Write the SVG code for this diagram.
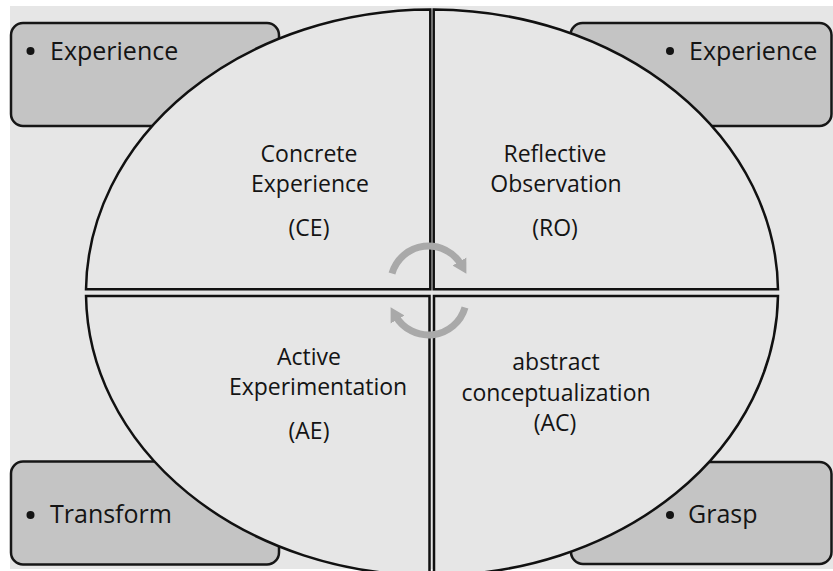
<svg xmlns="http://www.w3.org/2000/svg" width="833" height="571" viewBox="0 0 833 571">
  <defs>
    <style>
      .box { fill: #c4c4c4; stroke: #161616; stroke-width: 2.5; }
      .quad { fill: #e6e6e6; stroke: #111; stroke-width: 2.5; stroke-linejoin: miter; }
      .lbl { font-family: "Open Sans", "Liberation Sans", sans-serif; fill: #141414; }
      .corner { font-size: 25px; }
      .mid { font-size: 23px; text-anchor: middle; }
      .bullet { fill: #141414; }
      .cycle { fill: none; stroke: #a9a9a9; stroke-width: 7; }
    </style>
    <marker id="head" markerUnits="userSpaceOnUse" markerWidth="20" markerHeight="20" viewBox="0 0 20 20" refX="4" refY="10" orient="auto">
      <path d="M0 2 L14 10 L0 18 Z" fill="#a9a9a9"/>
    </marker>
  </defs>

  <!-- page background -->
  <rect x="10" y="6" width="823" height="563" fill="#e6e6e6"/>

  <!-- corner boxes -->
  <g id="box-tl">
    <rect class="box" x="11" y="23" width="268" height="103" rx="12"/>
    <circle class="bullet" cx="30.5" cy="51" r="4"/>
    <text class="lbl corner" x="50" y="60">Experience</text>
  </g>
  <g id="box-tr">
    <rect class="box" x="570.5" y="23" width="261" height="103" rx="12"/>
    <circle class="bullet" cx="670" cy="51" r="4"/>
    <text class="lbl corner" x="689" y="60">Experience</text>
  </g>
  <g id="box-bl">
    <rect class="box" x="11" y="461.5" width="268" height="103" rx="12"/>
    <circle class="bullet" cx="30.5" cy="515" r="4"/>
    <text class="lbl corner" x="50" y="523">Transform</text>
  </g>
  <g id="box-br">
    <rect class="box" x="571" y="462" width="260.5" height="102" rx="12"/>
    <circle class="bullet" cx="670" cy="515" r="4"/>
    <text class="lbl corner" x="688" y="523">Grasp</text>
  </g>

  <!-- the four quadrants of the cycle -->
  <g id="ce">
    <path class="quad" d="M430.3 289.3 H86.02 A346 283 0 0 1 430.3 9.5 Z"/>
    <text class="lbl mid" x="309" y="162">Concrete</text>
    <text class="lbl mid" x="310" y="192">Experience</text>
    <text class="lbl mid" x="309" y="236">(CE)</text>
  </g>
  <g id="ro">
    <path class="quad" d="M433.7 289.3 V9.5 A346 283 0 0 1 777.98 289.3 Z"/>
    <text class="lbl mid" x="555" y="162">Reflective</text>
    <text class="lbl mid" x="556" y="192">Observation</text>
    <text class="lbl mid" x="555" y="236">(RO)</text>
  </g>
  <g id="ae">
    <path class="quad" d="M429.5 296 H86.03 A346 283 0 0 0 429.5 575.5 Z"/>
    <text class="lbl mid" x="309" y="365">Active</text>
    <text class="lbl mid" x="318" y="395">Experimentation</text>
    <text class="lbl mid" x="309" y="439">(AE)</text>
  </g>
  <g id="ac">
    <path class="quad" d="M434 296 V575.5 A346 283 0 0 0 777.97 296 Z"/>
    <text class="lbl mid" x="556" y="370">abstract</text>
    <text class="lbl mid" x="556" y="401">conceptualization</text>
    <text class="lbl mid" x="555" y="431">(AC)</text>
  </g>

  <!-- cycle arrows -->
  <g id="connectors">
    <path class="cycle" d="M392 273.5 A38 38 0 0 1 461.4 265" marker-end="url(#head)"/>
    <path class="cycle" d="M465 307.5 A38 38 0 0 1 395.6 316" marker-end="url(#head)"/>
  </g>
</svg>
